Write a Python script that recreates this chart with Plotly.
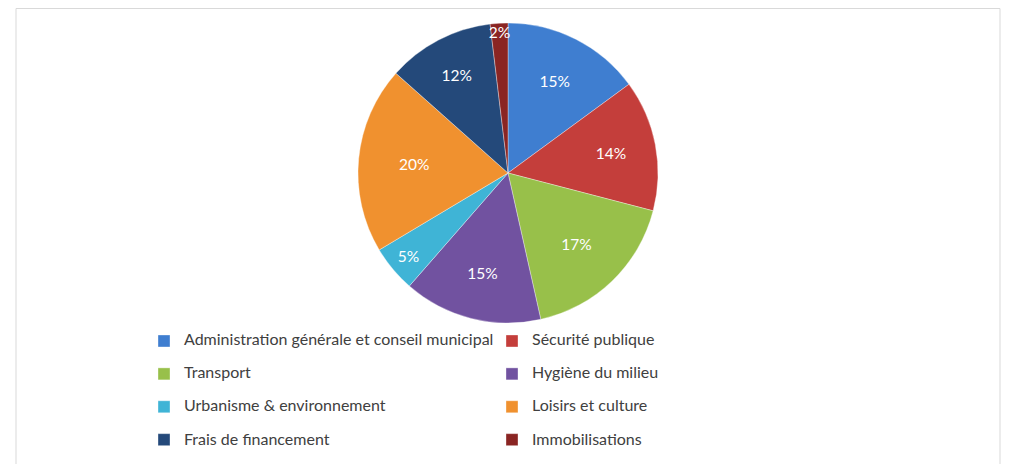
import plotly.graph_objects as go

categories = [
    "Administration générale et conseil municipal",
    "Sécurité publique",
    "Transport",
    "Hygiène du milieu",
    "Urbanisme & environnement",
    "Loisirs et culture",
    "Frais de financement",
    "Immobilisations",
]
values = [14.9, 14.1, 17.4, 14.9, 5.0, 20.1, 11.5, 1.9]
colors = ["#3F7ED0", "#C43E3B", "#98C04A", "#7152A0", "#3FB4D6", "#F0912F", "#24497A", "#8A2523"]

# page has an 8px body margin, so figure coordinates are page coordinates minus 8
W, H = 1003, 460
cx, cy, r = 500, 165, 150

# two-line legend entries give the wide row spacing; the last row needs no spacer
legend_labels = []
for i, c in enumerate(categories):
    spacer = "<br>&nbsp;" if i < 6 else ""
    legend_labels.append('<span style="font-size:16px">%s</span>%s' % (c, spacer))

fig = go.Figure(go.Pie(
    labels=legend_labels,
    values=values,
    sort=False,
    direction="clockwise",
    rotation=0,
    marker=dict(colors=colors, line=dict(color="rgba(255,255,255,0.35)", width=1)),
    texttemplate="%{percent:.0%}",
    textposition="inside",
    insidetextorientation="horizontal",
    textfont=dict(family="Lato", size=15.5, color="white"),
    hoverinfo="label+percent",
    domain=dict(x=[(cx - r) / W, (cx + r) / W], y=[1 - (cy + r) / H, 1 - (cy - r) / H]),
))

fig.update_layout(
    width=W, height=H,
    margin=dict(l=0, r=0, t=0, b=0),
    paper_bgcolor="white",
    plot_bgcolor="white",
    showlegend=True,
    uniformtext=dict(minsize=15.5, mode="show"),
    legend=dict(
        orientation="h",
        x=136 / W, xanchor="left",
        y=1 - 319 / H, yanchor="top",
        entrywidth=303, entrywidthmode="pixels",
        valign="top",
        bgcolor="rgba(0,0,0,0)",
        font=dict(family="Lato", size=11.5, color="#404040"),
        traceorder="normal",
    ),
    shapes=[dict(type="rect", xref="paper", yref="paper",
                 x0=8 / W, x1=992 / W, y0=-0.05, y1=1 - 0.5 / H,
                 line=dict(color="#D9D9D9", width=1), fillcolor="rgba(0,0,0,0)")],
)

fig.write_html("out.html")
